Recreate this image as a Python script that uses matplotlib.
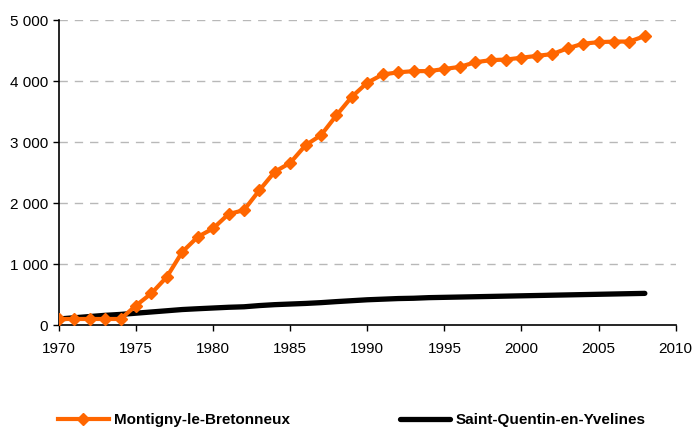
import matplotlib
matplotlib.use("Agg")
import matplotlib.pyplot as plt
from matplotlib.ticker import FuncFormatter

# ── Data ──────────────────────────────────────────────────────────────────────
years = list(range(1970, 2009))
montigny = [100, 100, 100, 100, 100,
            320, 520, 790, 1200, 1445, 1585, 1820, 1885, 2210, 2515,
            2660, 2950, 3115, 3440, 3745, 3975, 4110, 4145, 4165, 4165,
            4200, 4235, 4310, 4345, 4355, 4385, 4415, 4445, 4540, 4615,
            4640, 4650, 4650, 4740]
sqy = [100, 120, 140, 160, 175,
       195, 215, 235, 255, 268, 280, 292, 300, 320, 335,
       345, 355, 368, 385, 400, 415, 425, 435, 440, 450,
       455, 460, 465, 470, 475, 480, 485, 490, 495, 500,
       505, 510, 515, 520]
labels = ["Montigny-le-Bretonneux", "Saint-Quentin-en-Yvelines"]

plt.rcParams["font.family"] = ["Liberation Sans", "DejaVu Sans"]

fig = plt.figure(figsize=(6.93, 4.30), dpi=100)
ax = fig.add_axes([0.085, 0.244, 0.89, 0.709])

ax.plot(years, sqy, color="black", lw=3.8, solid_capstyle="round",
        label=labels[1], zorder=2)
ax.plot(years, montigny, color="#FF6600", lw=3.0, marker="D", ms=6.5,
        label=labels[0], zorder=3)

ax.set_xlim(1970, 2010)
ax.set_ylim(0, 5000)
ax.set_xticks(range(1970, 2011, 5))
ax.set_yticks(range(0, 5001, 1000))
ax.yaxis.set_major_formatter(FuncFormatter(lambda v, p: f"{int(v):,}".replace(",", " ")))
ax.tick_params(labelsize=11, length=4, width=1, direction="out", pad=4)
ax.tick_params(axis="x", pad=8)

for y in range(1000, 5001, 1000):
    ax.axhline(y, color="#b8b8b8", lw=1, ls=(0, (6, 5)), zorder=0)

for s in ("top", "right"):
    ax.spines[s].set_visible(False)
for s in ("left", "bottom"):
    ax.spines[s].set_linewidth(1.2)

h, l = ax.get_legend_handles_labels()
leg = fig.legend(h[::-1], l[::-1], loc="center", bbox_to_anchor=(0.508, 0.023),
                 ncol=2, frameon=False, columnspacing=7.2, handlelength=3.3,
                 handletextpad=0.35, prop={"size": 11, "weight": "bold"})

fig.savefig("out.png", dpi=100)
